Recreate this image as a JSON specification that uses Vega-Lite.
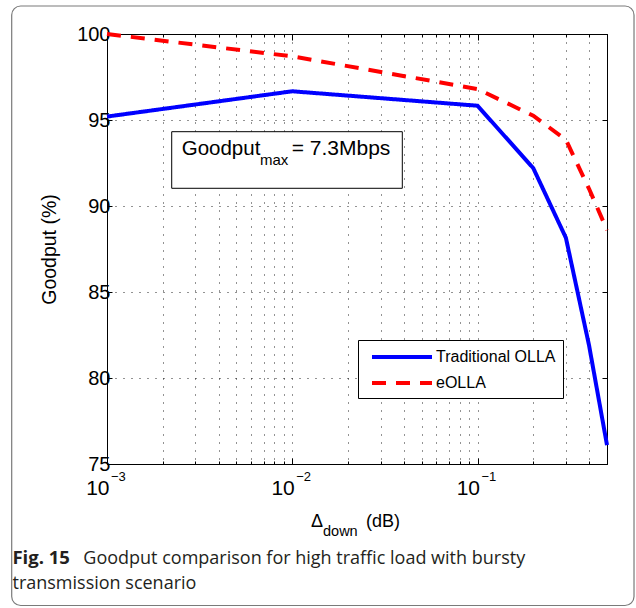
{
  "$schema": "https://vega.github.io/schema/vega-lite/v6.json",
  "width": 500,
  "height": 430,
  "autosize": {"type": "none"},
  "padding": {"left": 107, "top": 34, "right": 29, "bottom": 144},
  "background": "white",
  "config": {
    "view": {"stroke": "#000", "strokeWidth": 1},
    "font": "Liberation Sans"
  },
  "data": {"values": [{}]},
  "datasets": {
    "lines": [
      {"delta": 0.001, "goodput": 95.2, "series": "Traditional OLLA"},
      {"delta": 0.01, "goodput": 96.67, "series": "Traditional OLLA"},
      {"delta": 0.1, "goodput": 95.83, "series": "Traditional OLLA"},
      {"delta": 0.2, "goodput": 92.2, "series": "Traditional OLLA"},
      {"delta": 0.3, "goodput": 88.15, "series": "Traditional OLLA"},
      {"delta": 0.4, "goodput": 81.9, "series": "Traditional OLLA"},
      {"delta": 0.5, "goodput": 76.1, "series": "Traditional OLLA"},
      {"delta": 0.001, "goodput": 100, "series": "eOLLA"},
      {"delta": 0.01, "goodput": 98.7, "series": "eOLLA"},
      {"delta": 0.1, "goodput": 96.8, "series": "eOLLA"},
      {"delta": 0.2, "goodput": 95.25, "series": "eOLLA"},
      {"delta": 0.3, "goodput": 93.85, "series": "eOLLA"},
      {"delta": 0.4, "goodput": 91.0, "series": "eOLLA"},
      {"delta": 0.5, "goodput": 88.6, "series": "eOLLA"}
    ],
    "xlabels": [
      {"v": 0.001, "base": "10", "exp": "−3"},
      {"v": 0.01, "base": "10", "exp": "−2"},
      {"v": 0.1, "base": "10", "exp": "−1"}
    ]
  },
  "layer": [
    {
      "mark": {"type": "rect", "fill": null, "fillOpacity": 0, "stroke": "#7a7a7a", "strokeWidth": 1.2, "cornerRadius": 9, "clip": false},
      "encoding": {
        "x": {"datum": 0.0003059, "type": "quantitative", "scale": {"type": "log", "domain": [0.001, 0.5], "nice": false}, "axis": null},
        "x2": {"datum": 0.6995},
        "y": {"datum": 101.628, "type": "quantitative", "scale": {"domain": [75, 100], "nice": false, "zero": false}, "axis": null},
        "y2": {"datum": 66.773}
      }
    },
    {
      "mark": {"type": "rect", "fill": "white", "stroke": "#000", "strokeWidth": 1},
      "encoding": {
        "x": {"datum": 0.002235, "type": "quantitative", "axis": null},
        "x2": {"datum": 0.03927},
        "y": {"datum": 94.32, "type": "quantitative", "axis": null},
        "y2": {"datum": 91.03}
      }
    },
    {
      "data": {"name": "lines"},
      "mark": {"type": "line", "strokeWidth": 4, "clip": false},
      "encoding": {
        "x": {
          "field": "delta", "type": "quantitative",
          "axis": {
            "orient": "bottom",
            "values": [0.001,0.002,0.003,0.004,0.005,0.006,0.007,0.008,0.009,0.01,0.02,0.03,0.04,0.05,0.06,0.07,0.08,0.09,0.1,0.2,0.3,0.4],
            "labels": false, "title": null,
            "grid": true, "gridDash": [1, 7], "gridColor": "#000", "gridOpacity": 0.85, "gridWidth": 1,
            "tickSize": {"condition": {"test": "datum.value == 0.001 || datum.value == 0.01 || datum.value == 0.1", "value": -6}, "value": -3},
            "tickColor": "#000", "domainColor": "#000"
          }
        },
        "y": {
          "field": "goodput", "type": "quantitative",
          "axis": {
            "orient": "left",
            "values": [75, 80, 85, 90, 95, 100],
            "title": "Goodput (%)",
            "titleFont": "Liberation Sans", "titleFontSize": 19.5, "titleFontWeight": "normal", "titleColor": "#000",
            "titlePadding": 17,
            "labelFont": "Liberation Sans", "labelFontSize": 20, "labelColor": "#000", "labelPadding": 2,
            "grid": true, "gridDash": [1, 7], "gridColor": "#000", "gridOpacity": 0.85, "gridWidth": 1,
            "tickSize": -5, "tickColor": "#000", "domainColor": "#000"
          }
        },
        "color": {
          "field": "series", "type": "nominal",
          "scale": {"domain": ["Traditional OLLA", "eOLLA"], "range": ["#0000ff", "#ff0000"]},
          "legend": {
            "orient": "none", "legendX": 251, "legendY": 306, "title": null,
            "strokeColor": "#000", "fillColor": "white", "padding": 7,
            "symbolType": "M-3.75,0H3.75", "symbolSize": 256, "symbolStrokeWidth": 4, "symbolOffset": 27,
            "labelFont": "Liberation Sans", "labelFontSize": 16, "labelColor": "#000",
            "labelOffset": 24, "rowPadding": 8
          }
        },
        "strokeDash": {
          "field": "series", "type": "nominal",
          "scale": {"domain": ["Traditional OLLA", "eOLLA"], "range": [[1, 0], [14, 10]]},
          "legend": {
            "orient": "none", "legendX": 251, "legendY": 306, "title": null,
            "strokeColor": "#000", "fillColor": "white", "padding": 7,
            "symbolType": "M-3.75,0H3.75", "symbolSize": 256, "symbolStrokeWidth": 4, "symbolOffset": 27,
            "labelFont": "Liberation Sans", "labelFontSize": 16, "labelColor": "#000",
            "labelOffset": 24, "rowPadding": 8
          }
        }
      }
    },
    {
      "data": {"name": "xlabels"},
      "mark": {"type": "text", "align": "right", "baseline": "alphabetic", "dx": 2.5, "dy": 31, "fontSize": 21, "font": "Liberation Sans", "color": "#000", "clip": false},
      "encoding": {
        "x": {
          "field": "v", "type": "quantitative",
          "axis": {
            "orient": "top",
            "values": [0.001,0.002,0.003,0.004,0.005,0.006,0.007,0.008,0.009,0.01,0.02,0.03,0.04,0.05,0.06,0.07,0.08,0.09,0.1,0.2,0.3,0.4],
            "labels": false, "title": null, "grid": false,
            "tickSize": {"condition": {"test": "datum.value == 0.001 || datum.value == 0.01 || datum.value == 0.1", "value": -6}, "value": -3},
            "tickColor": "#000", "domainColor": "#000"
          }
        },
        "y": {
          "datum": 75, "type": "quantitative",
          "axis": {
            "orient": "right", "values": [75, 80, 85, 90, 95, 100],
            "labels": false, "title": null, "grid": false,
            "tickSize": -5, "tickColor": "#000", "domainColor": "#000"
          }
        },
        "text": {"field": "base"}
      }
    },
    {
      "data": {"name": "xlabels"},
      "mark": {"type": "text", "align": "left", "baseline": "alphabetic", "dx": 4, "dy": 17, "fontSize": 13, "font": "Liberation Sans", "color": "#000", "clip": false},
      "encoding": {
        "x": {"field": "v", "type": "quantitative", "axis": null},
        "y": {"datum": 75, "type": "quantitative", "axis": null},
        "text": {"field": "exp"}
      }
    },
    {
      "mark": {"type": "text", "align": "right", "baseline": "alphabetic", "dx": -34, "dy": 63, "fontSize": 18, "font": "Liberation Sans", "color": "#000", "clip": false},
      "encoding": {
        "x": {"datum": 0.02236, "type": "quantitative", "axis": null},
        "y": {"datum": 75, "type": "quantitative", "axis": null},
        "text": {"value": "Δ"}
      }
    },
    {
      "mark": {"type": "text", "align": "left", "baseline": "alphabetic", "dx": -34, "dy": 72, "fontSize": 14.5, "font": "Liberation Sans", "color": "#000", "clip": false},
      "encoding": {
        "x": {"datum": 0.02236, "type": "quantitative", "axis": null},
        "y": {"datum": 75, "type": "quantitative", "axis": null},
        "text": {"value": "down"}
      }
    },
    {
      "mark": {"type": "text", "align": "left", "baseline": "alphabetic", "dx": 9, "dy": 63, "fontSize": 18, "font": "Liberation Sans", "color": "#000", "clip": false},
      "encoding": {
        "x": {"datum": 0.02236, "type": "quantitative", "axis": null},
        "y": {"datum": 75, "type": "quantitative", "axis": null},
        "text": {"value": "(dB)"}
      }
    },
    {
      "mark": {"type": "text", "align": "left", "baseline": "alphabetic", "fontSize": 20.5, "font": "Liberation Sans", "color": "#000"},
      "encoding": {
        "x": {"datum": 0.00253, "type": "quantitative", "axis": null},
        "y": {"datum": 92.965, "type": "quantitative", "axis": null},
        "text": {"value": "Goodput"}
      }
    },
    {
      "mark": {"type": "text", "align": "left", "baseline": "alphabetic", "fontSize": 15, "font": "Liberation Sans", "color": "#000"},
      "encoding": {
        "x": {"datum": 0.006698, "type": "quantitative", "axis": null},
        "y": {"datum": 92.384, "type": "quantitative", "axis": null},
        "text": {"value": "max"}
      }
    },
    {
      "mark": {"type": "text", "align": "left", "baseline": "alphabetic", "fontSize": 21, "font": "Liberation Sans", "color": "#000"},
      "encoding": {
        "x": {"datum": 0.009932, "type": "quantitative", "axis": null},
        "y": {"datum": 92.965, "type": "quantitative", "axis": null},
        "text": {"value": "= 7.3Mbps"}
      }
    },
    {
      "mark": {"type": "text", "align": "left", "baseline": "alphabetic", "fontSize": 18.5, "font": "Open Sans", "fontWeight": "bold", "color": "#231f20", "clip": false},
      "encoding": {
        "x": {"datum": 0.0003088, "type": "quantitative", "axis": null},
        "y": {"datum": 69.186, "type": "quantitative", "axis": null},
        "text": {"value": "Fig. 15"}
      }
    },
    {
      "mark": {"type": "text", "align": "left", "baseline": "alphabetic", "fontSize": 18, "font": "Open Sans", "color": "#231f20", "clip": false},
      "encoding": {
        "x": {"datum": 0.0007448, "type": "quantitative", "axis": null},
        "y": {"datum": 69.186, "type": "quantitative", "axis": null},
        "text": {"value": "Goodput comparison for high traffic load with bursty"}
      }
    },
    {
      "mark": {"type": "text", "align": "left", "baseline": "alphabetic", "fontSize": 18, "font": "Open Sans", "color": "#231f20", "clip": false},
      "encoding": {
        "x": {"datum": 0.0003088, "type": "quantitative", "axis": null},
        "y": {"datum": 67.715, "type": "quantitative", "axis": null},
        "text": {"value": "transmission scenario"}
      }
    }
  ],
  "resolve": {"axis": {"x": "independent", "y": "independent"}}
}
